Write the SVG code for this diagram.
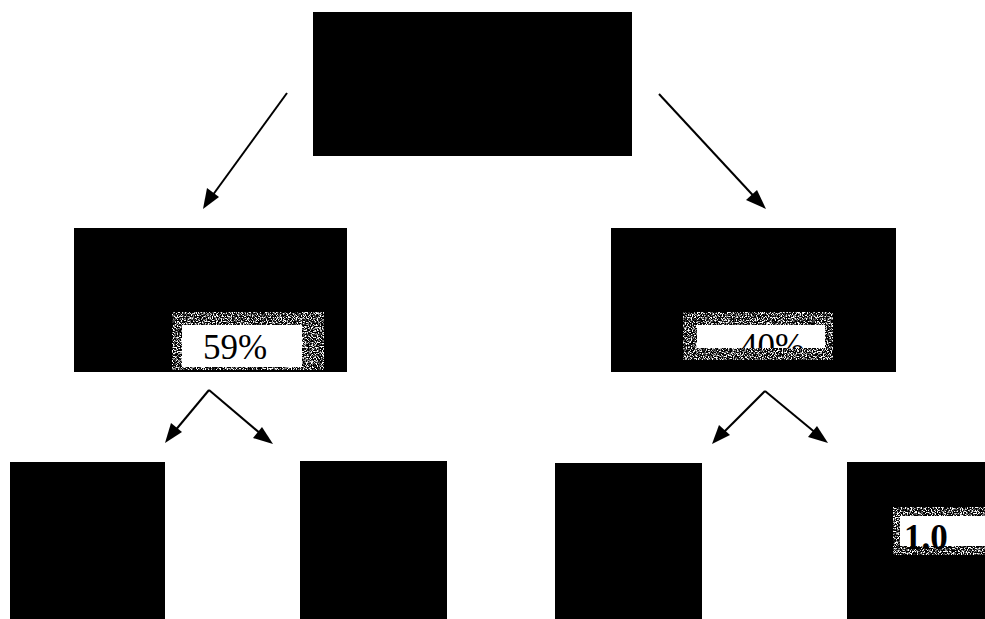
<svg xmlns="http://www.w3.org/2000/svg" width="985" height="619" viewBox="0 0 985 619">
  <style>
    .box { fill: #000; }
    .halo { fill: #fff; filter: url(#speckle); }
    .core { fill: #fff; }
    .lbl { font-family: "Liberation Serif", "Times New Roman", serif; fill: #000; }
    .edge { stroke: #000; stroke-width: 2; fill: none; }
    .head { fill: #000; }
  </style>
  <defs>
    <filter id="speckle" x="0" y="0" width="1" height="1" color-interpolation-filters="sRGB">
      <feTurbulence type="fractalNoise" baseFrequency="0.8" numOctaves="2" seed="7" result="n"/>
      <feColorMatrix in="n" type="matrix" values="0 0 0 0 1  0 0 0 0 1  0 0 0 0 1  6 0 0 0 -2.8" result="w"/>
      <feComposite in="w" in2="SourceGraphic" operator="in"/>
    </filter>
    <clipPath id="c40"><rect x="697" y="325" width="128" height="23"/></clipPath>
  </defs>
  <rect x="0" y="0" width="985" height="619" fill="#fff"/>

  <g id="connectors">
    <path class="edge" d="M287,93 L207,203"/>
    <polygon class="head" points="203,209 207,188 219,197"/>
    <path class="edge" d="M659,94 L761,204"/>
    <polygon class="head" points="766,209 746,200 757,190"/>
    <path class="edge" d="M209,390 L169,438"/>
    <polygon class="head" points="165,443 171,423 182,432"/>
    <path class="edge" d="M209,390 L268,440"/>
    <polygon class="head" points="273,444 253,438 262,427"/>
    <path class="edge" d="M765,391 L717,439"/>
    <polygon class="head" points="712,444 719,425 730,435"/>
    <path class="edge" d="M765,391 L823,439"/>
    <polygon class="head" points="828,443 808,437 817,426"/>
  </g>

  <g id="root"><rect class="box" x="313" y="12" width="319" height="144"/></g>

  <g id="mid-left">
    <rect class="box" x="74" y="228" width="273" height="144"/>
    <rect class="halo" x="172" y="312" width="152" height="58"/>
    <rect class="core" x="182" y="325" width="120" height="42"/>
    <text class="lbl" x="203" y="359" font-size="35">59%</text>
  </g>

  <g id="mid-right">
    <rect class="box" x="611" y="228" width="285" height="144"/>
    <rect class="halo" x="683" y="312" width="150" height="48"/>
    <rect class="core" x="697" y="325" width="128" height="23"/>
    <text class="lbl" x="740" y="358" font-size="35" clip-path="url(#c40)">40%</text>
  </g>

  <g id="leaf-1"><rect class="box" x="10" y="462" width="155" height="157"/></g>
  <g id="leaf-2"><rect class="box" x="300" y="461" width="147" height="158"/></g>
  <g id="leaf-3"><rect class="box" x="555" y="463" width="147" height="156"/></g>
  <g id="leaf-4">
    <rect class="box" x="847" y="462" width="138" height="157"/>
    <rect class="halo" x="893" y="507" width="92" height="48"/>
    <rect class="core" x="900" y="516" width="85" height="30"/>
    <text class="lbl" x="904" y="549" font-size="35" font-weight="bold">1.0</text>
  </g>
</svg>
